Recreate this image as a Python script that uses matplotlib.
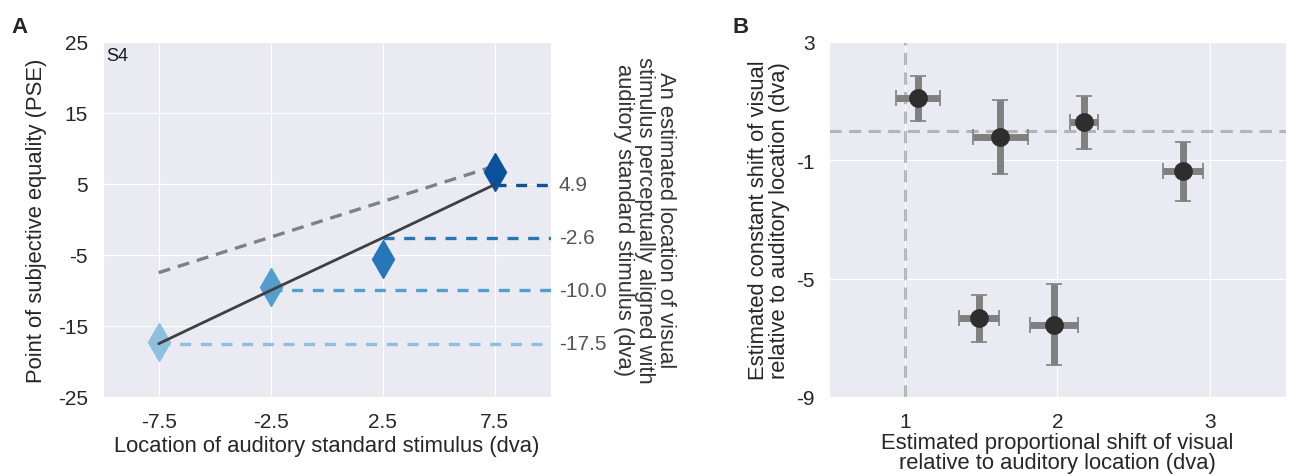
import matplotlib
matplotlib.use("Agg")
import matplotlib.pyplot as plt
import seaborn as sns

sns.set_style("darkgrid")
plt.rcParams["font.family"] = ["Liberation Sans", "DejaVu Sans"]

# panel A: PSE per auditory standard location, subject S4
standard_loc = [-7.5, -2.5, 2.5, 7.5]
pse = [-17.3, -9.45, -5.6, 6.6]
fit_pse = [-17.5, -10.0, -2.6, 4.9]
loc_colors = ["#8dc0de", "#539ecd", "#2676b8", "#0a519c"]

# panel B: per-subject estimates with errors
prop_shift = [1.085, 1.626, 2.175, 2.825, 1.485, 1.976]
prop_err = [0.143, 0.178, 0.093, 0.129, 0.129, 0.158]
const_shift = [1.09, -0.23, 0.28, -1.38, -6.34, -6.56]
const_err = [0.76, 1.25, 0.89, 0.99, 0.79, 1.36]

W, H = 1292, 477
fig = plt.figure(figsize=(W / 100, H / 100), dpi=100)
axA = fig.add_axes([102.7 / W, 1 - 398 / H, 448 / W, 355.3 / H])
axB = fig.add_axes([829 / W, 1 - 398 / H, 456.7 / W, 355.3 / H])

fs = 15
lfs = 15.8
tick_color = "#262626"

# --- A ---
axA.plot([standard_loc[0], standard_loc[-1]], [standard_loc[0], standard_loc[-1]],
         color="#808080", lw=2.4, dashes=(3.6, 2.4), zorder=2)
for x, y_fit, c in zip(standard_loc, fit_pse, loc_colors):
    axA.plot([x, 10], [y_fit, y_fit], color=c, lw=2.4, dashes=(3.3, 2.9), zorder=2)
    axA.text(10.37, y_fit, f"{y_fit:.1f}", color="#555555", fontsize=fs,
             ha="left", va="center", clip_on=False)
for x, y, c in zip(standard_loc, pse, loc_colors):
    axA.plot(x, y, marker="d", ms=19.5, color=c, mec=c, ls="none", zorder=3)
axA.plot(standard_loc, fit_pse, color="#3f3f3f", lw=2.0, zorder=4)

axA.set_xlim(-10, 10)
axA.set_ylim(-25, 25)
axA.set_xticks(standard_loc)
axA.set_xticklabels(["-7.5", "-2.5", "2.5", "7.5"])
axA.set_yticks([25, 15, 5, -5, -15, -25])
axA.set_yticklabels(["25", "15", "5", "-5", "-15", "-25"])
axA.tick_params(labelsize=fs, colors=tick_color, pad=7)
axA.set_xlabel("Location of auditory standard stimulus (dva)", fontsize=lfs,
               color=tick_color, labelpad=3)
axA.set_ylabel("Point of subjective equality (PSE)", fontsize=lfs,
               color=tick_color, labelpad=8)
axA.text(0.007, 0.985, "S4", transform=axA.transAxes, fontsize=13,
         ha="left", va="top", color="#1a1a1a")
axA.text(1.21, 0.5,
         "An estimated location of visual\nstimulus perceptually aligned with\n"
         "auditory standard stimulus (dva)",
         transform=axA.transAxes, rotation=270, ha="center", va="center",
         multialignment="center", fontsize=lfs, color="#333333", linespacing=1.0)

# --- B ---
axB.axvline(1, color="#808080", alpha=0.5, lw=2.2, dashes=(4, 2.4), zorder=1.5)
axB.axhline(0, color="#808080", alpha=0.5, lw=2.2, dashes=(4, 2.4), zorder=1.5)
axB.errorbar(prop_shift, const_shift, xerr=prop_err, yerr=const_err, fmt="o",
             ms=12.5, color="#2e2e2e", ecolor="#808080", elinewidth=5,
             capsize=6, capthick=1.2, zorder=3)
axB.set_xlim(0.5, 3.5)
axB.set_ylim(-9, 3)
axB.set_xticks([1, 2, 3])
axB.set_yticks([3, -1, -5, -9])
axB.set_yticklabels(["3", "-1", "-5", "-9"])
axB.tick_params(labelsize=fs, colors=tick_color, pad=7)
axB.set_xlabel("Estimated proportional shift of visual\nrelative to auditory location (dva)",
               fontsize=lfs, color=tick_color, labelpad=1, linespacing=0.95)
axB.set_ylabel("Estimated constant shift of visual\nrelative to auditory location (dva)",
               fontsize=lfs, color=tick_color, labelpad=4, linespacing=1.0)

fig.text(11 / W, 1 - 33 / H, "A", fontsize=16, fontweight="bold", va="baseline")
fig.text(733 / W, 1 - 33 / H, "B", fontsize=16, fontweight="bold", va="baseline")

fig.savefig("out.png", dpi=100)
